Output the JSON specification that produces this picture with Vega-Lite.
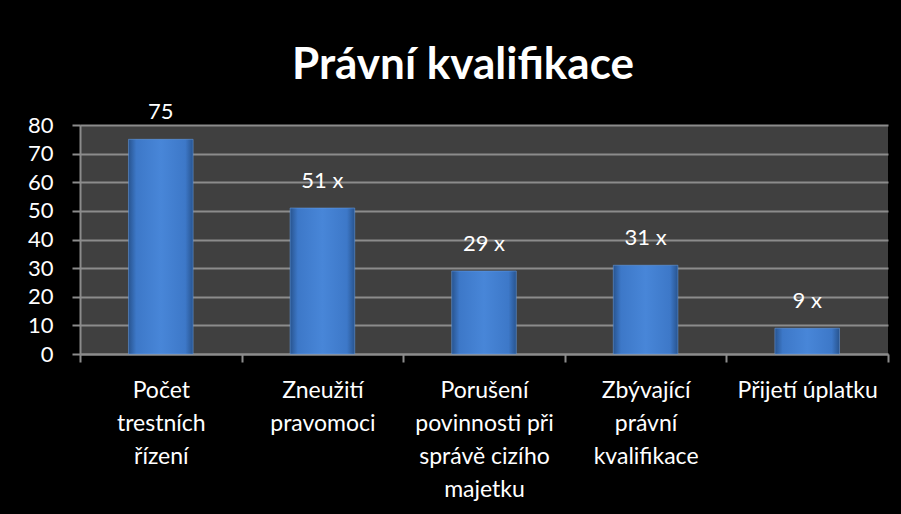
{
  "$schema": "https://vega.github.io/schema/vega-lite/v6.json",
  "width": 808,
  "height": 229,
  "autosize": {"type": "none"},
  "padding": {"left": 80, "top": 125, "right": 13, "bottom": 160},
  "background": "black",
  "title": {
    "text": "Právní kvalifikace",
    "font": "Lato",
    "fontSize": 44,
    "fontWeight": "bold",
    "color": "white",
    "anchor": "middle",
    "dx": -21,
    "offset": 13
  },
  "data": {
    "values": [
      {"kategorie": "Počet trestních řízení", "pocet": 75, "popisek": "75"},
      {"kategorie": "Zneužití pravomoci", "pocet": 51, "popisek": "51 x"},
      {"kategorie": "Porušení povinnosti při správě cizího majetku", "pocet": 29, "popisek": "29 x"},
      {"kategorie": "Zbývající právní kvalifikace", "pocet": 31, "popisek": "31 x"},
      {"kategorie": "Přijetí úplatku", "pocet": 9, "popisek": "9 x"}
    ]
  },
  "encoding": {
    "x": {
      "field": "kategorie",
      "type": "nominal",
      "sort": null,
      "scale": {"paddingInner": 0, "paddingOuter": 0},
      "axis": {
        "title": null,
        "labelAngle": 0,
        "labelFont": "Lato",
        "labelFontSize": 23,
        "labelColor": "white",
        "labelLineHeight": 33,
        "labelPadding": 17,
        "tickBand": "extent",
        "tickSize": 8,
        "tickColor": "#8c8c8c",
        "tickWidth": 2,
        "domainColor": "#8c8c8c",
        "domainWidth": 2,
        "labelExpr": "datum.value == 'Počet trestních řízení' ? ['Počet', 'trestních', 'řízení'] : datum.value == 'Zneužití pravomoci' ? ['Zneužití', 'pravomoci'] : datum.value == 'Porušení povinnosti při správě cizího majetku' ? ['Porušení', 'povinnosti při', 'správě cizího', 'majetku'] : datum.value == 'Zbývající právní kvalifikace' ? ['Zbývající', 'právní', 'kvalifikace'] : datum.value"
      }
    },
    "y": {
      "field": "pocet",
      "type": "quantitative",
      "scale": {"domain": [0, 80], "nice": false},
      "axis": {
        "title": null,
        "values": [0, 10, 20, 30, 40, 50, 60, 70, 80],
        "labelFont": "Lato",
        "labelFontSize": 22,
        "labelColor": "white",
        "labelPadding": 19,
        "tickSize": 8,
        "tickColor": "#8c8c8c",
        "tickWidth": 2,
        "domainColor": "#8c8c8c",
        "domainWidth": 2,
        "grid": true,
        "gridColor": "#8c8c8c",
        "gridWidth": 2
      }
    }
  },
  "layer": [
    {
      "mark": {
        "type": "bar",
        "width": {"band": 0.4},
        "color": {
          "gradient": "linear",
          "x1": 0, "x2": 1, "y1": 0, "y2": 0,
          "stops": [
            {"offset": 0, "color": "#28548f"},
            {"offset": 0.12, "color": "#3d78c8"},
            {"offset": 0.5, "color": "#4886d8"},
            {"offset": 0.88, "color": "#3d78c8"},
            {"offset": 1, "color": "#28548f"}
          ]
        },
        "stroke": "#6aa3ea",
        "strokeWidth": 0.5
      }
    },
    {
      "mark": {
        "type": "text",
        "font": "Lato",
        "fontSize": 22,
        "color": "white",
        "baseline": "alphabetic",
        "dy": -20
      },
      "encoding": {"text": {"field": "popisek"}}
    }
  ],
  "config": {
    "view": {"fill": "#404040", "stroke": null}
  }
}
